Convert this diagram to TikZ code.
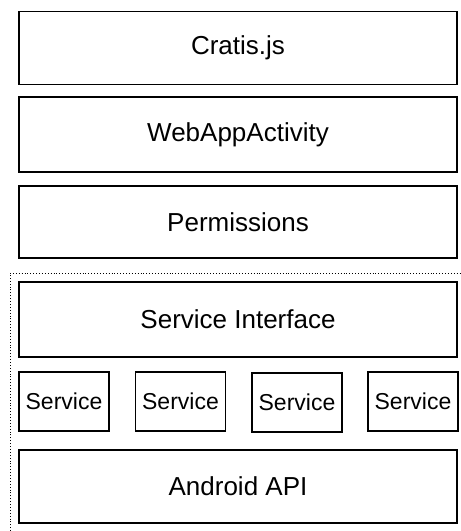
\documentclass[tikz,border=0pt]{standalone}
\usepackage{fontspec}
\setmainfont{Liberation Sans}
\usepackage{tikz}
\usetikzlibrary{positioning}

\begin{document}
\begin{tikzpicture}[x=1pt,y=-1pt,
  layer/.style={draw=black,line width=1.2pt,minimum width=438pt,minimum height=73pt,inner sep=0pt,font=\fontsize{26}{31}\selectfont},
  svc/.style={draw=black,line width=1.2pt,minimum width=90pt,minimum height=59pt,inner sep=0pt,font=\fontsize{23}{27}\selectfont},
  group/.style={draw=black,line width=0.9pt,dotted}]
\useasboundingbox (0,0) rectangle (461,531);
% stack of layers
\node[layer] (cratis) at (238,48) {Cratis.js};
\node[layer,minimum height=75pt] (webapp) at (238,134.5) {WebAppActivity};
\node[layer,minimum height=72pt] (perms) at (238,222) {Permissions};
% native side
\draw[group] (10,531) -- (10,273) -- (461,273);
\node[layer,minimum height=75pt] (iface) at (238,319.5) {Service Interface};
\node[svc] (svca) at (64,401.5) {Service};
\node[svc] (svcb) at (180.5,401.5) {Service};
\node[svc] (svcc) at (297,402.5) {Service};
\node[svc] (svcd) at (413,401.5) {Service};
\node[layer] (android) at (238,486.5) {Android API};
\end{tikzpicture}
\end{document}
